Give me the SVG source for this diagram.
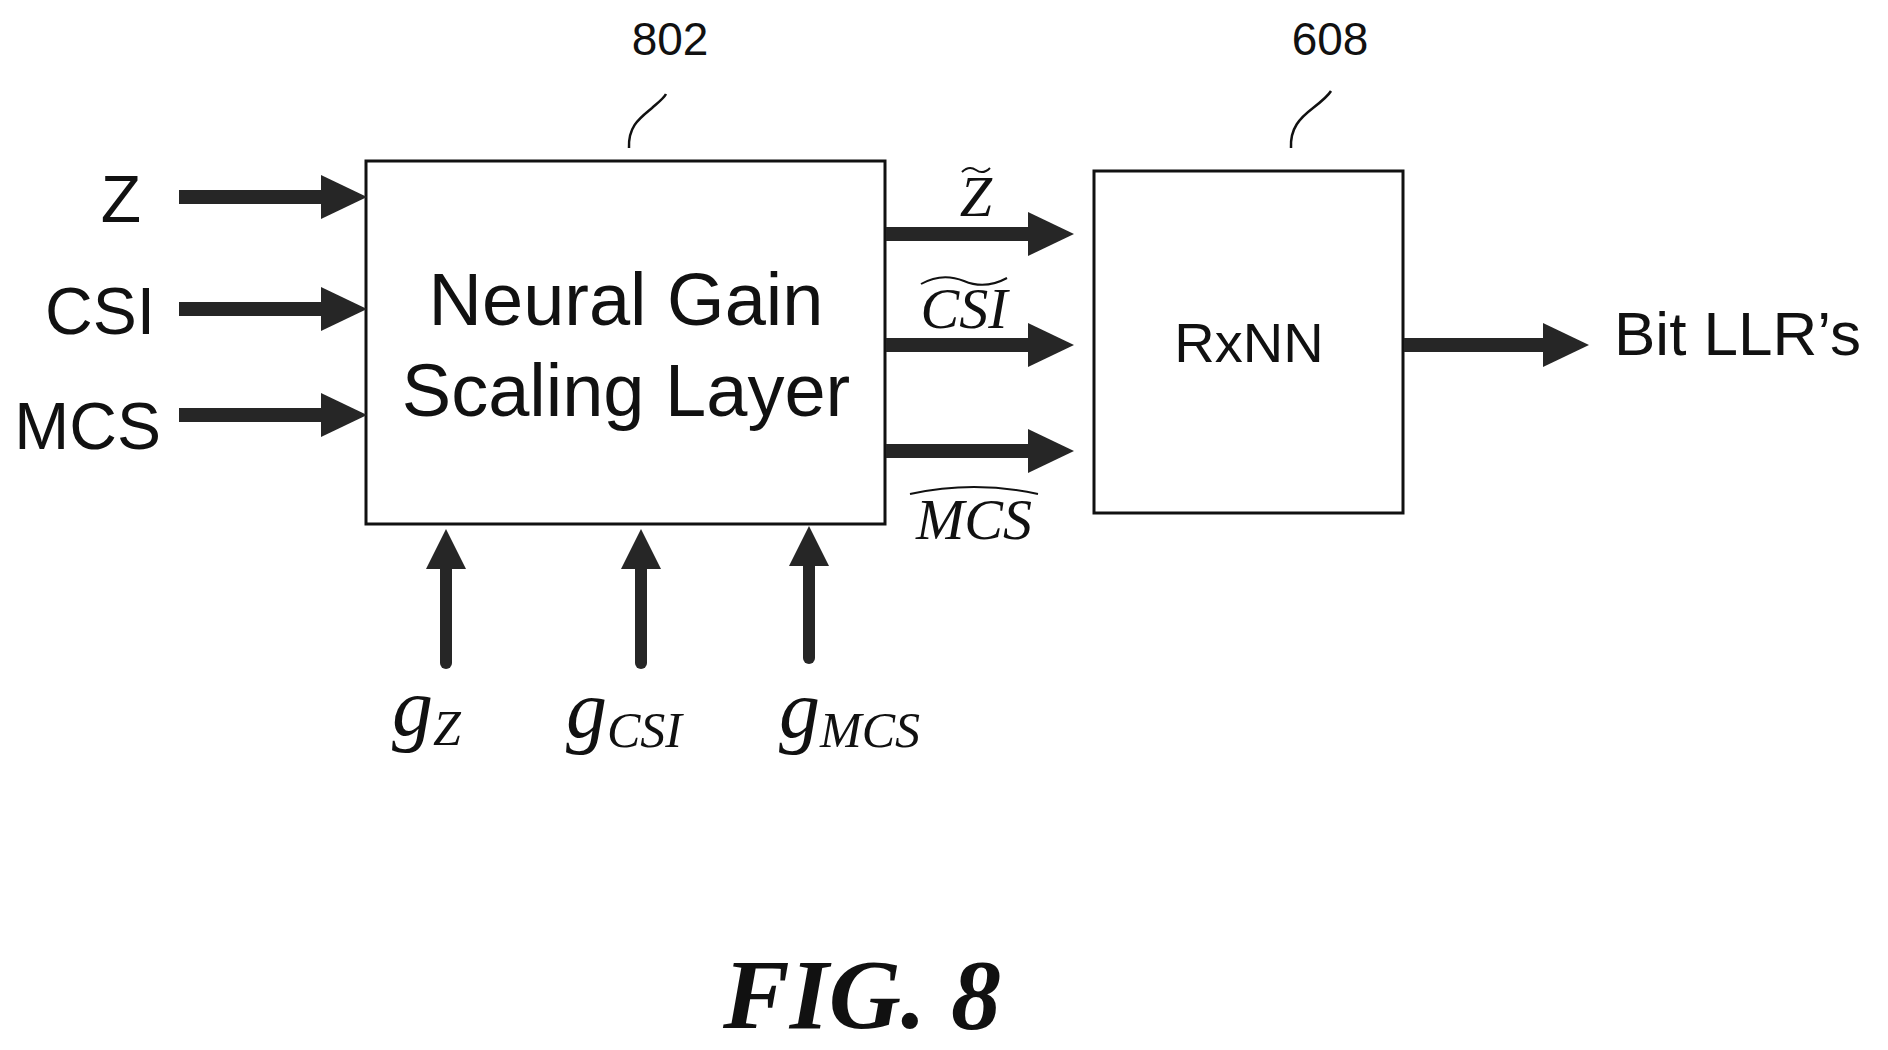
<svg xmlns="http://www.w3.org/2000/svg" width="1888" height="1050" viewBox="0 0 1888 1050">
<style>
.box{fill:#fff;stroke:#111;stroke-width:3}
.sans{font-family:"Liberation Sans",Arial,sans-serif;fill:#111}
.ser{font-family:"Liberation Serif","Times New Roman",serif;font-style:italic;fill:#111}
.shaft{stroke:#262626;stroke-width:14}
.vshaft{stroke:#262626;stroke-width:12;stroke-linecap:round}
.hd{fill:#262626}
.lead{fill:none;stroke:#111;stroke-width:2.5}
.tl{fill:none;stroke:#111;stroke-width:2}
</style>
<rect width="1888" height="1050" fill="#fff"/>
<g id="n802">
<rect class="box" x="366" y="161" width="519" height="363"/>
<text class="sans" x="626" y="325" font-size="74" text-anchor="middle">Neural Gain</text>
<text class="sans" x="626" y="416" font-size="74" text-anchor="middle">Scaling Layer</text>
<text class="sans" x="670" y="55" font-size="46" text-anchor="middle">802</text>
<path class="lead" d="M629,148 C628,126 640,118 652,108 C660,101 664,98 666,94"/>
</g>
<g id="n608">
<rect class="box" x="1094" y="171" width="309" height="342"/>
<text class="sans" x="1249" y="362" font-size="56" text-anchor="middle">RxNN</text>
<text class="sans" x="1330" y="55" font-size="46" text-anchor="middle">608</text>
<path class="lead" d="M1291,148 C1290,128 1300,118 1313,108 C1322,101 1328,96 1331,91"/>
</g>
<g id="labels">
<text class="sans" x="121" y="222" font-size="66" text-anchor="middle">Z</text>
<text class="sans" x="155" y="334" font-size="66" text-anchor="end">CSI</text>
<text class="sans" x="161" y="449" font-size="66" text-anchor="end">MCS</text>
<text class="sans" x="1614" y="355" font-size="62">Bit LLR’s</text>
<text class="ser" x="976" y="216" font-size="58" text-anchor="middle">Z</text>
<path class="tl" d="M962,172 q7,-7 14,-2 q7,5 14,-2"/>
<text class="ser" x="964" y="328" font-size="58" text-anchor="middle">CSI</text>
<path class="tl" d="M921,284 q21,-12 43,-3 q21,9 43,-3"/>
<text class="ser" x="974" y="539" font-size="58" text-anchor="middle">MCS</text>
<path class="tl" d="M910,494 q64,-14 128,0"/>
<text class="ser" x="392" y="735" font-size="82">g<tspan font-size="50" dy="10">Z</tspan></text>
<text class="ser" x="566" y="737" font-size="82">g<tspan font-size="50" dy="10">CSI</tspan></text>
<text class="ser" x="779" y="737" font-size="82">g<tspan font-size="50" dy="10">MCS</tspan></text>
<text x="862" y="1028" font-family="Liberation Serif,Times New Roman,serif" font-style="italic" font-weight="bold" font-size="100" text-anchor="middle" fill="#111">FIG. 8</text>
</g>
<g id="connectors">
<line class="shaft" x1="179" y1="197" x2="325" y2="197"/><polygon class="hd" points="321,175 367,197 321,219"/>
<line class="shaft" x1="179" y1="309" x2="325" y2="309"/><polygon class="hd" points="321,287 367,309 321,331"/>
<line class="shaft" x1="179" y1="415" x2="325" y2="415"/><polygon class="hd" points="321,393 367,415 321,437"/>
<line class="shaft" x1="886" y1="234" x2="1032" y2="234"/><polygon class="hd" points="1028,212 1074,234 1028,256"/>
<line class="shaft" x1="886" y1="345" x2="1032" y2="345"/><polygon class="hd" points="1028,323 1074,345 1028,367"/>
<line class="shaft" x1="886" y1="451" x2="1032" y2="451"/><polygon class="hd" points="1028,429 1074,451 1028,473"/>
<line class="shaft" x1="1404" y1="345" x2="1547" y2="345"/><polygon class="hd" points="1543,323 1589,345 1543,367"/>
<line class="vshaft" x1="446" y1="663" x2="446" y2="565"/><polygon class="hd" points="426,569 446,529 466,569"/>
<line class="vshaft" x1="641" y1="663" x2="641" y2="565"/><polygon class="hd" points="621,569 641,529 661,569"/>
<line class="vshaft" x1="809" y1="658" x2="809" y2="562"/><polygon class="hd" points="789,566 809,526 829,566"/>
</g>
</svg>
